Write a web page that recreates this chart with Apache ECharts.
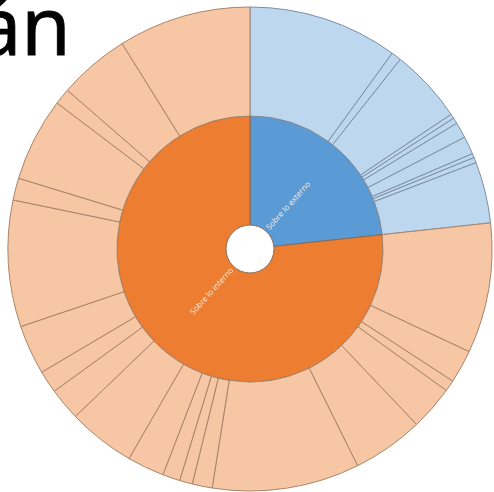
<!DOCTYPE html>
<html>
<head>
<meta charset="utf-8">
<script src="https://cdn.jsdelivr.net/npm/echarts@6/dist/echarts.min.js"></script>
<style>
  html, body { margin: 0; padding: 0; background: #fff; }
  #chart { width: 494px; height: 492px; }
</style>
</head>
<body>
<div id="chart"></div>
<script>
// grupos del anillo interior
var groups = ['Sobre lo externo', 'Sobre lo interno'];
var externoValues = [36.0, 2.4, 17.8, 1.1, 1.4, 3.8, 4.3, 1.0, 1.3, 14.7];
var internoValues = [31.3, 8.0, 2.7, 10.7, 17.1, 35.4, 4.8, 3.1, 4.2, 8.9,
                     16.2, 7.8, 5.4, 11.9, 30.4, 5.3, 20.1, 3.9, 17.1, 31.9];
var titleText = 'án';

var groupColors = ['#5B9BD5', '#ED7D31'];
var childColors = ['#BDD7EE', '#F7C6A4'];
var childBorders = ['#7d8ea3', '#a88468'];

var buildChildren = function (vals, g) {
    return vals.map(function (v, i) {
        return {
            name: groups[g] + ' ' + (i + 1),
            value: v,
            itemStyle: { color: childColors[g], borderColor: childBorders[g] }
        };
    });
};

var data = [
    { name: groups[0], itemStyle: { color: groupColors[0] }, children: buildChildren(externoValues, 0) },
    { name: groups[1], itemStyle: { color: groupColors[1] }, children: buildChildren(internoValues, 1) }
];

var e = echarts.init(document.getElementById('chart'));
var option = {
    animation: false,
    graphic: [{
        type: 'text',
        left: -24,
        top: -8,
        style: {
            text: titleText,
            font: '80px "Noto Sans"',
            fill: '#000',
            stroke: '#000',
            lineWidth: 0.8,
            shadowBlur: 3,
            shadowColor: 'rgba(0,0,0,0.35)',
            shadowOffsetX: 1,
            shadowOffsetY: 1
        },
        z: 10
    }],
    series: [{
        type: 'sunburst',
        center: [250, 249],
        radius: [24, 242],
        sort: null,
        nodeClick: false,
        startAngle: 90,
        emphasis: { disabled: true },
        itemStyle: { borderWidth: 1, borderColor: '#9a7258' },
        levels: [
            {},
            {
                r0: 24, r: 133,
                itemStyle: { borderWidth: 1, borderColor: '#8a6a55' },
                label: {
                    show: true,
                    rotate: 'radial',
                    align: 'left',
                    distance: 3,
                    fontSize: 8,
                    fontFamily: 'Open Sans',
                    color: '#fbece2'
                }
            },
            {
                r0: 133, r: 242,
                itemStyle: { borderWidth: 1 },
                label: { show: false }
            }
        ],
        data: data
    }]
};
e.setOption(option);
</script>
</body>
</html>
